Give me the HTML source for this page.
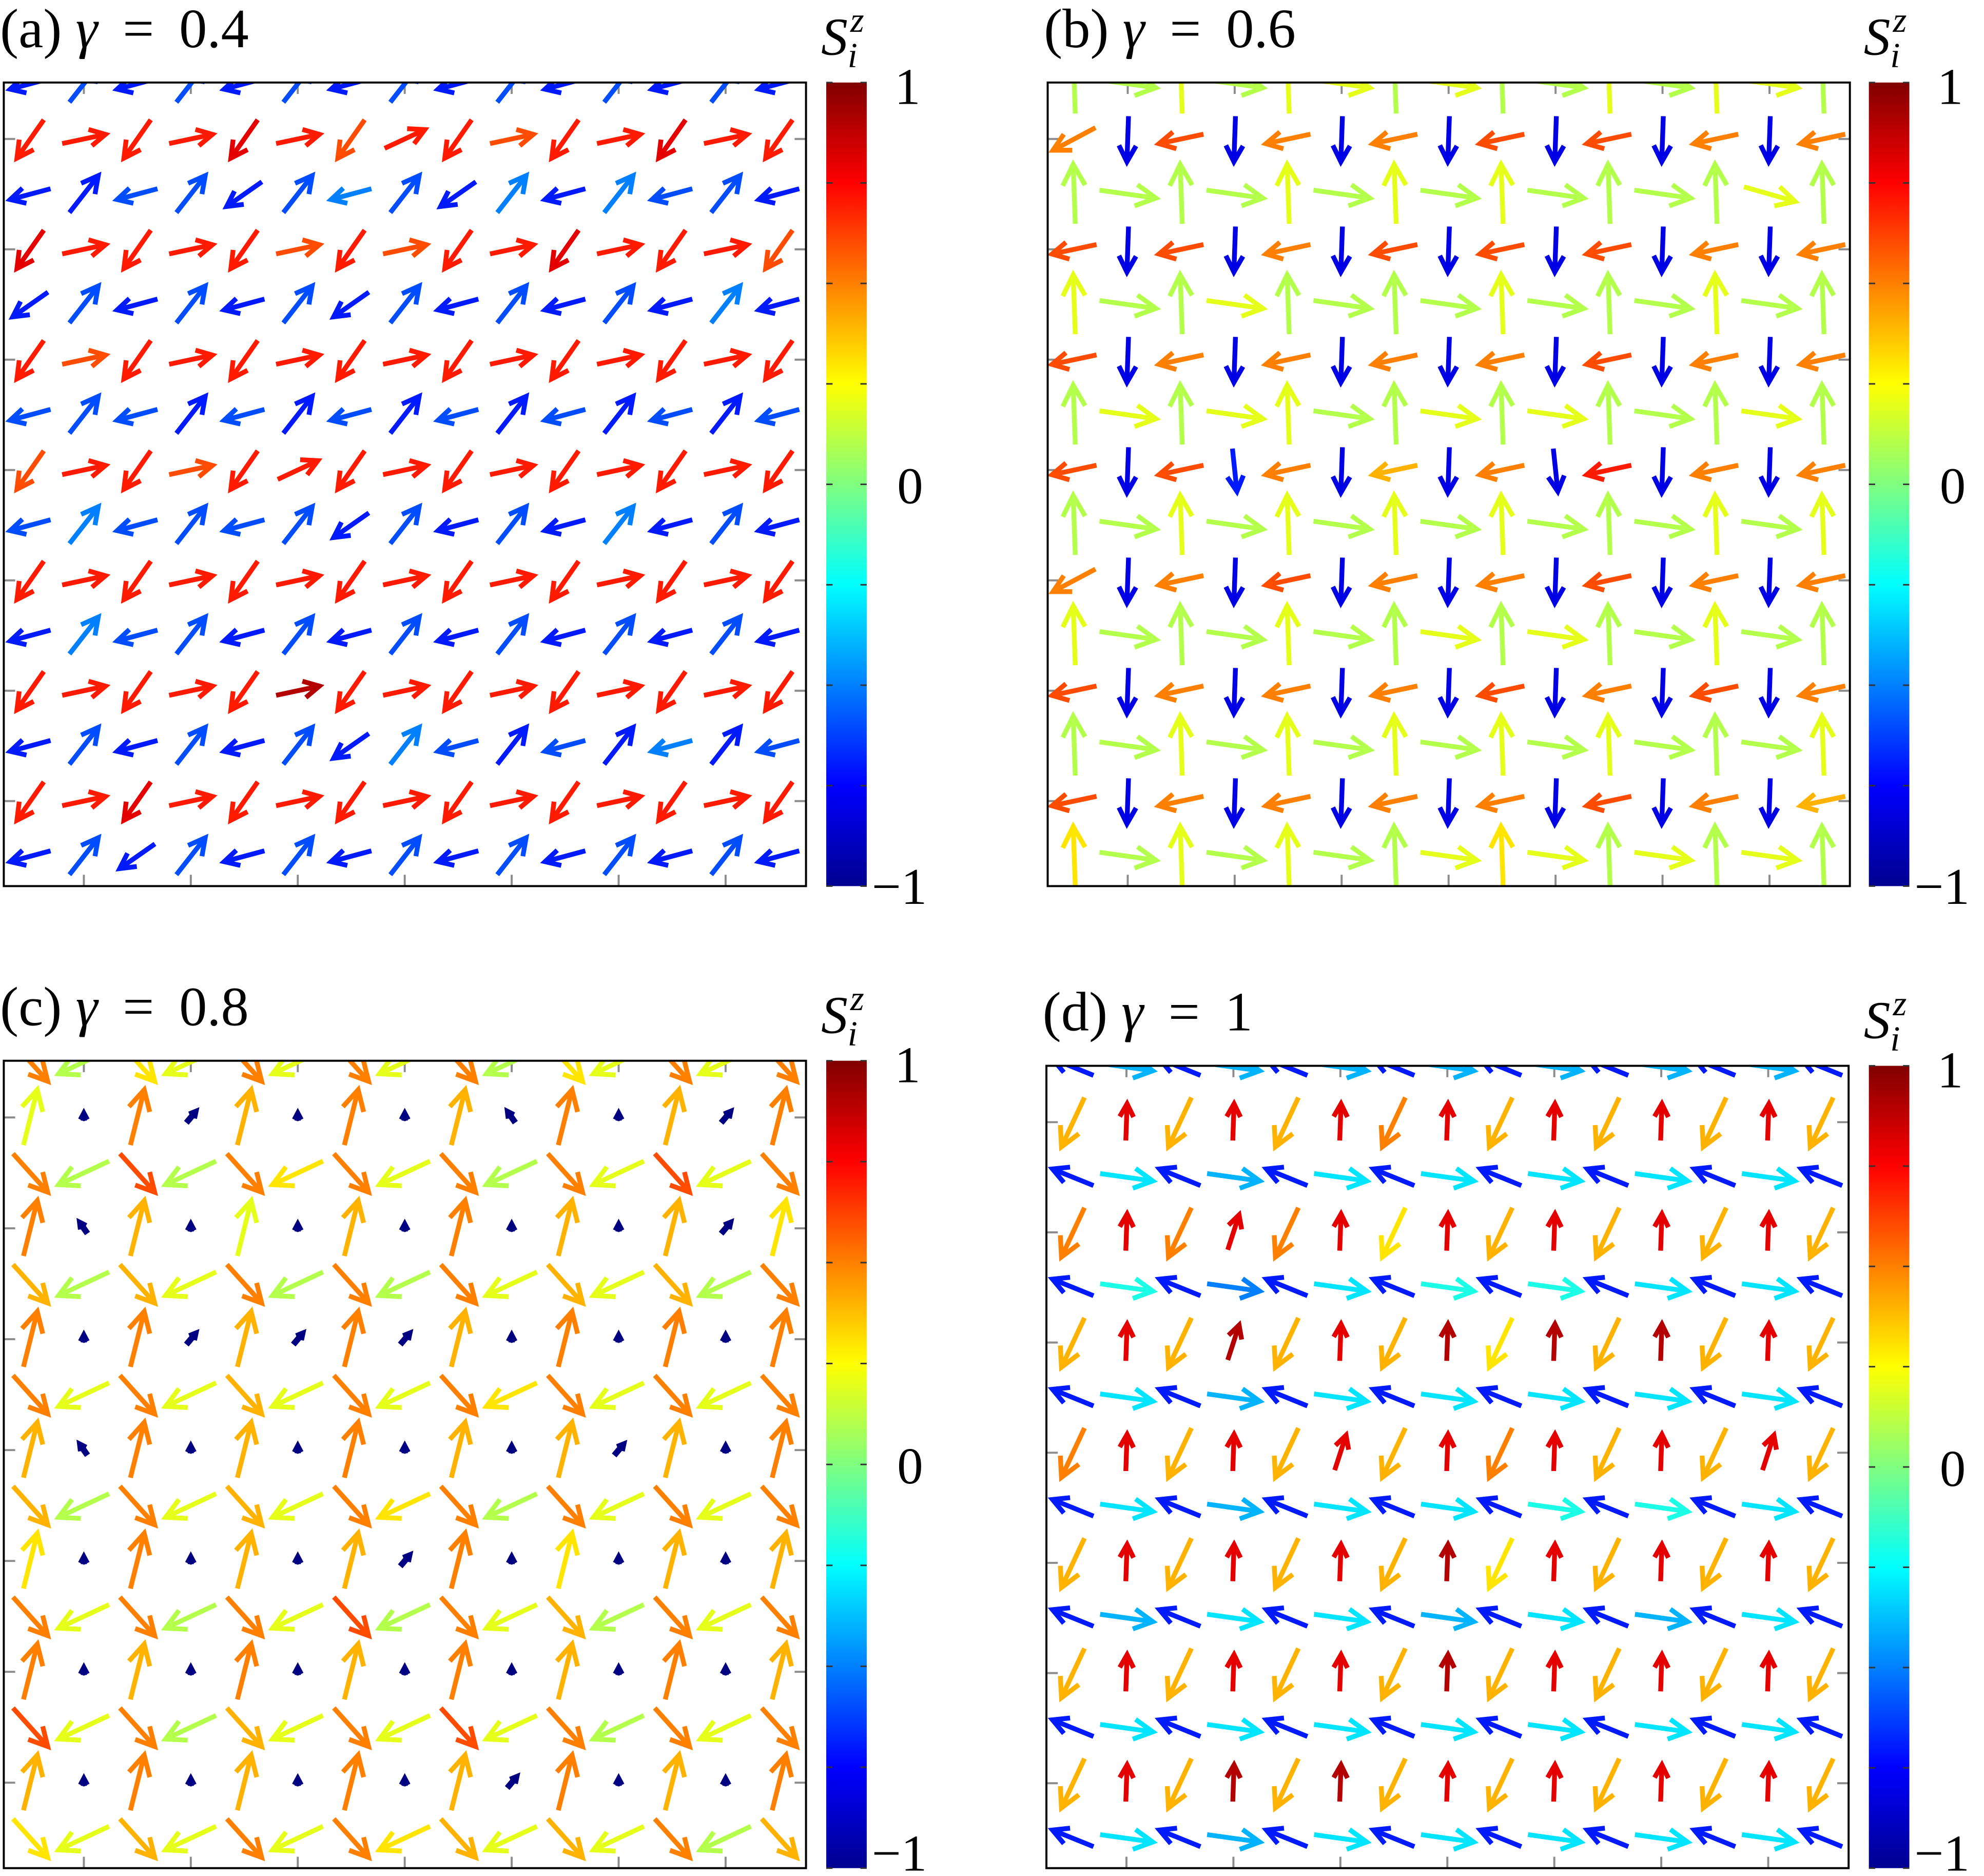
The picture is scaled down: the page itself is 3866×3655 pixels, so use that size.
<!DOCTYPE html>
<html><head><meta charset="utf-8">
<style>
html,body{margin:0;padding:0;background:#fff;}
svg{display:block;}
text{font-family:"Liberation Serif",serif;fill:#000;}
</style></head>
<body>
<svg id="fig" width="3866" height="3655" viewBox="0 0 1568 1482" xmlns="http://www.w3.org/2000/svg">
<defs>
<linearGradient id="jet" x1="0" y1="1" x2="0" y2="0">
<stop offset="0" stop-color="#00008f"/>
<stop offset="0.125" stop-color="#0000ff"/>
<stop offset="0.375" stop-color="#00ffff"/>
<stop offset="0.625" stop-color="#ffff00"/>
<stop offset="0.875" stop-color="#ff0000"/>
<stop offset="1" stop-color="#800000"/>
</linearGradient>
</defs>
</svg>
<script>
// direction codes: [angle in degrees (math convention), length]
const codesA = {R:[12,35], r:[25,35], a:[235,37], A:[215,34], L:[195,33], b:[52,37], B:[38,35]};
const codesB = {U:[92,47], u:[87,44], R:[-8,45], r:[-16,42], L:[192,36], l:[208,38], D:[268,36], d:[276,34]};
const codesC = {U:[76,45], u:[70,43], S:[-48,41], s:[-40,42], W:[205,44], w:[196,42], o:[90,5], p:[50,11], q:[125,10]};
const codesD = {a:[245,43], A:[238,40], U:[88,29], V:[72,29], Q:[158,35], R:[-8,42], r:[-14,40]};

const dirsA = [
"LbLbLbLbLbLbLbL","aRaRaRaraRaRaRa","LbLbAbLbAbLbLbL","aRaRaRaRaRaRaRa","AbLbLbAbLbLbLbL",
"aRaRaRaRaRaRaRa","LbLbLbLbLbLbLbL","aRaRaraRaRaRaRa","LbLbLbAbLbLbLbL","aRaRaRaRaRaRaRa",
"LbLbLbLbLbLbLbL","aRaRaRaRaRaRaRa","LbLbLbAbLbLbLbL","aRaRaRaRaRaRaRa","LbAbLbLbLbLbLbL"];
const szA = [
"343434343434343","HHHHIHGHHGHHIHH","334434543535443","IHHHHGHGHHIHHHG","343434343434353",
"HGHHHHHHHHHHHHH","444343434343434","GHHGHHHHHHHHHHH","454444343435343","HHHHHHHHHHHHHHH",
"354434343434343","HHHHHJHHHHHHHHH","343434354343534","HHIHHHHHHHHHHHH","343434343434343"];

const dirsB = [
"URURURURURURURU","lDLDLDLDLDLDLDL","URURURURURURUrU","LDLDLDLDLDLDLDL","URURURURURURURU",
"LDLDLDLDLDLDLDL","URURURURURURURU","LDLdLDLDLdLDLDL","URURURURURURURU","lDLDLDLDLDLDLDL",
"URURURURURURURU","LDLDLDLDLDLDLDL","URURURURURURURU","LDLDLDLDLDLDLDL","URURURURURURURU"];
const szB = [
"BBCBCCBCBBCBCCB","F2G2F2F2G2G2F2F","BBBBCBCBCBBBBCB","G2G2F2G2G2G2F2F","CBBCBBBBCBBBCBB",
"G2F2F2F2F2G2F2F","BCBCCBBCBCBBBCB","G2G3F2E2F2H2F2F","BBCBCBCBCBBBCBC","F2F2G2F2F2G2F2F",
"CBBBCBBCBCBBCBB","G2F2F2F2G2F2G2F","BBCBCBCBCBCBBBC","G2F2F2F2F2G2F2E","DBCBCBBCDCBCBCB"];

const dirsC = [
"SWSWSWSWSWSWSWS","UoUpUoUoUqUoUpU","SWSWSWSWSWSWSWS","UqUoUoUoUoUoUpU","SWSWSWSWSWSWSWS",
"UoUpUpUpUoUoUoU","SWSWSWSWSWSWSWS","UqUoUoUoUoUpUoU","SWSWSWSWSWSWSWS","UoUoUoUpUoUoUoU",
"SWSWSWSWSWSWSWS","UoUoUoUoUoUoUoU","SWSWSWSWSWSWSWS","UoUoUoUoUpUoUoU","SWSWSWSWSWSWSWS"];
const szC = [
"FBDCFCFCFBDCFCF","C0F0E0F0E0F0E0F","FBGBFDFCFBFCGCF","F0E0C0E0F0E0E0D","EBECFBFBFCECEBF",
"F0F0E0F0E0F0F0F","FCFCECFCFDFCFCF","E0F0E0F0E0E0E0F","EBFCECFDFBFCFCF","D0F0E0E0F0D0E0E",
"FCFBFCGBFCEBFCF","F0E0F0E0F0E0F0E","GCFBECFCGCFBFCF","E0F0E0F0E0F0E0F","DCECFCFDECECFBE"];

const dirsD = [
"QRQRQRQRQRQRQRQ","aUaUaUaUaUaUaUa","QRQRQRQRQRQRQRQ","aUaVaUaUaUaUaUa","QRQRQRQRQRQRQRQ",
"aUaVaUaUaUaUaUa","QRQRQRQRQRQRQRQ","aUaUaVaUaUaUaVa","QRQRQRQRQRQRQRQ","aUaUaUaUaUaUaUa",
"QRQRQRQRQRQRQRQ","aUaUaUaUaUaUaUa","QRQRQRQRQRQRQRQ","aUaUaUaUaUaUaUa","QRQRQRQRQRQRQRQ"];
const szD = [
"363636363636363","EIEIEIFIEIEIEIE","373637373737373","FIFIFIDIEIEIEIE","383537383837373",
"EIEJEIEJDJEJEIE","373637373737373","FIEIEIEIFIEIEIE","373637373838373","EIEIEIEJDIEIEIE",
"363737363736373","EIEIEIEJEIEIEIE","373737373737373","EIEJEJEIEIEIEIE","373637373737373"];

const szScale = "0123456789ABCDEFGHIJK"; // index k -> Sz = -1 + k/10
const cbTickVals = [-1,-0.75,-0.5,-0.25,0,0.25,0.5,0.75,1];
const cbLabels = [["1",1],["0",0],["\u22121",-1]];

const panels = [
 {id:"a", title:"0.4", box:[3,65,637,700], cb:[653,685], dirs:dirsA, sz:szA, codes:codesA},
 {id:"b", title:"0.6", box:[828,65,1462,700], cb:[1477,1509], dirs:dirsB, sz:szB, codes:codesB},
 {id:"c", title:"0.8", box:[3,838,637,1476], cb:[653,685], dirs:dirsC, sz:szC, codes:codesC},
 {id:"d", title:"1", box:[827,842,1461,1476], cb:[1477,1509], dirs:dirsD, sz:szD, codes:codesD}
];

const NS = "http://www.w3.org/2000/svg";
const svg = document.getElementById("fig");
function mk(tag, attrs, parent){const e=document.createElementNS(NS,tag);for(const k in attrs)e.setAttribute(k,attrs[k]);(parent||svg).appendChild(e);return e;}
function clamp(v){return Math.max(0,Math.min(1,v));}
function jet(v){const t=(v+1)/2;const r=clamp(1.5-Math.abs(4*t-3)),g=clamp(1.5-Math.abs(4*t-2)),b=clamp(1.5-Math.abs(4*t-1));
 return "rgb("+Math.round(r*255)+","+Math.round(g*255)+","+Math.round(b*255)+")";}

panels.forEach(p=>{
 const [L,T,R,B]=p.box;
 const g=mk("g",{});
 
 
 const tt=mk("text",{x:L-3,y:T-28,"font-size":44},g);
 
 
 tt.innerHTML='('+p.id+') <tspan font-style="italic">\u03b3</tspan> \u2009=\u2009 '+p.title;
 const cp=mk("clipPath",{id:"clip"+p.id},g);
 mk("rect",{x:L,y:T,width:R-L,height:B-T},cp);
 const nx=15, ny=15;
 const sx=i=>L+21+i*(R-L)/nx;
 const sy=j=>T+1+j*43.6*(B-T)/635;
 const tk=mk("g",{stroke:"#8c8c8c","stroke-width":1.6},g);
 
 
 for(let k=1;k<nx;k+=2){const x=sx(k);mk("line",{x1:x,y1:T,x2:x,y2:T+9},tk);mk("line",{x1:x,y1:B,x2:x,y2:B-9},tk);}
 for(let k=1;k<ny;k+=2){const y=sy(k);mk("line",{x1:L,y1:y,x2:L+9,y2:y},tk);mk("line",{x1:R,y1:y,x2:R-9,y2:y},tk);}
 const ag=mk("g",{"clip-path":"url(#clip"+p.id+")",fill:"none","stroke-linecap":"butt"},g);
 
 
 p.dirs.forEach((row,j)=>{
  for(let i=0;i<row.length;i++){
   const c=p.codes[row[i]]; if(!c) continue;
   const sz=-1+szScale.indexOf(p.sz[j][i])/10;
   const a=c[0]*Math.PI/180, len=c[1];
   const ux=Math.cos(a), uy=-Math.sin(a);
   const cx=sx(i), cy=sy(j);
   const x1=cx-ux*len/2, y1=cy-uy*len/2, x2=cx+ux*len/2, y2=cy+uy*len/2;
   const h=Math.max(5,len*0.4), ha=28*Math.PI/180;
   const bx=-ux, by=-uy;
   const hx1=x2+h*(bx*Math.cos(ha)-by*Math.sin(ha)), hy1=y2+h*(bx*Math.sin(ha)+by*Math.cos(ha));
   const hx2=x2+h*(bx*Math.cos(-ha)-by*Math.sin(-ha)), hy2=y2+h*(bx*Math.sin(-ha)+by*Math.cos(-ha));
   const el=mk("path",{d:"M"+x1+","+y1+"L"+x2+","+y2+"M"+hx1+","+hy1+"L"+x2+","+y2+"L"+hx2+","+hy2,stroke:jet(sz),"stroke-width":len<12?4.8:3.8},ag);
   
   
  }
 });
 const fr=mk("rect",{x:L,y:T,width:R-L,height:B-T,fill:"none",stroke:"#000","stroke-width":1.6},g);
 
 
 const [c0,c1]=p.cb;
 const cbg=mk("g",{},g);
 
 
 mk("rect",{x:c0,y:T,width:c1-c0,height:B-T,fill:"url(#jet)"},cbg);
 const cy=v=>B-(v+1)/2*(B-T);
 cbTickVals.forEach(v=>{const y=cy(v);
  const t1=mk("line",{x1:c0,y1:y,x2:c0+5,y2:y,stroke:"#333","stroke-width":1.2},cbg);
  
  
  const t2=mk("line",{x1:c1-5,y1:y,x2:c1,y2:y,stroke:"#333","stroke-width":1.2},cbg);
  
  });
 cbLabels.forEach(([s,v])=>{
  let y=cy(v)+(v>0?17:(v<0?14:15));
  if(y>1478) y=1478;
  const t=mk("text",{x:v<0?c1+4:(v===0?c1+24:c1+22),y:y,"font-size":41},cbg);
  
  
  t.textContent=s;});
 const st=mk("text",{x:c0-4,y:T-22,"font-size":42,"font-style":"italic"},cbg);
 
 
 st.innerHTML='S<tspan font-size="28" dx="2" dy="-18">z</tspan><tspan font-size="28" dx="-13" dy="28">i</tspan>';
});
</script>
</body></html>
